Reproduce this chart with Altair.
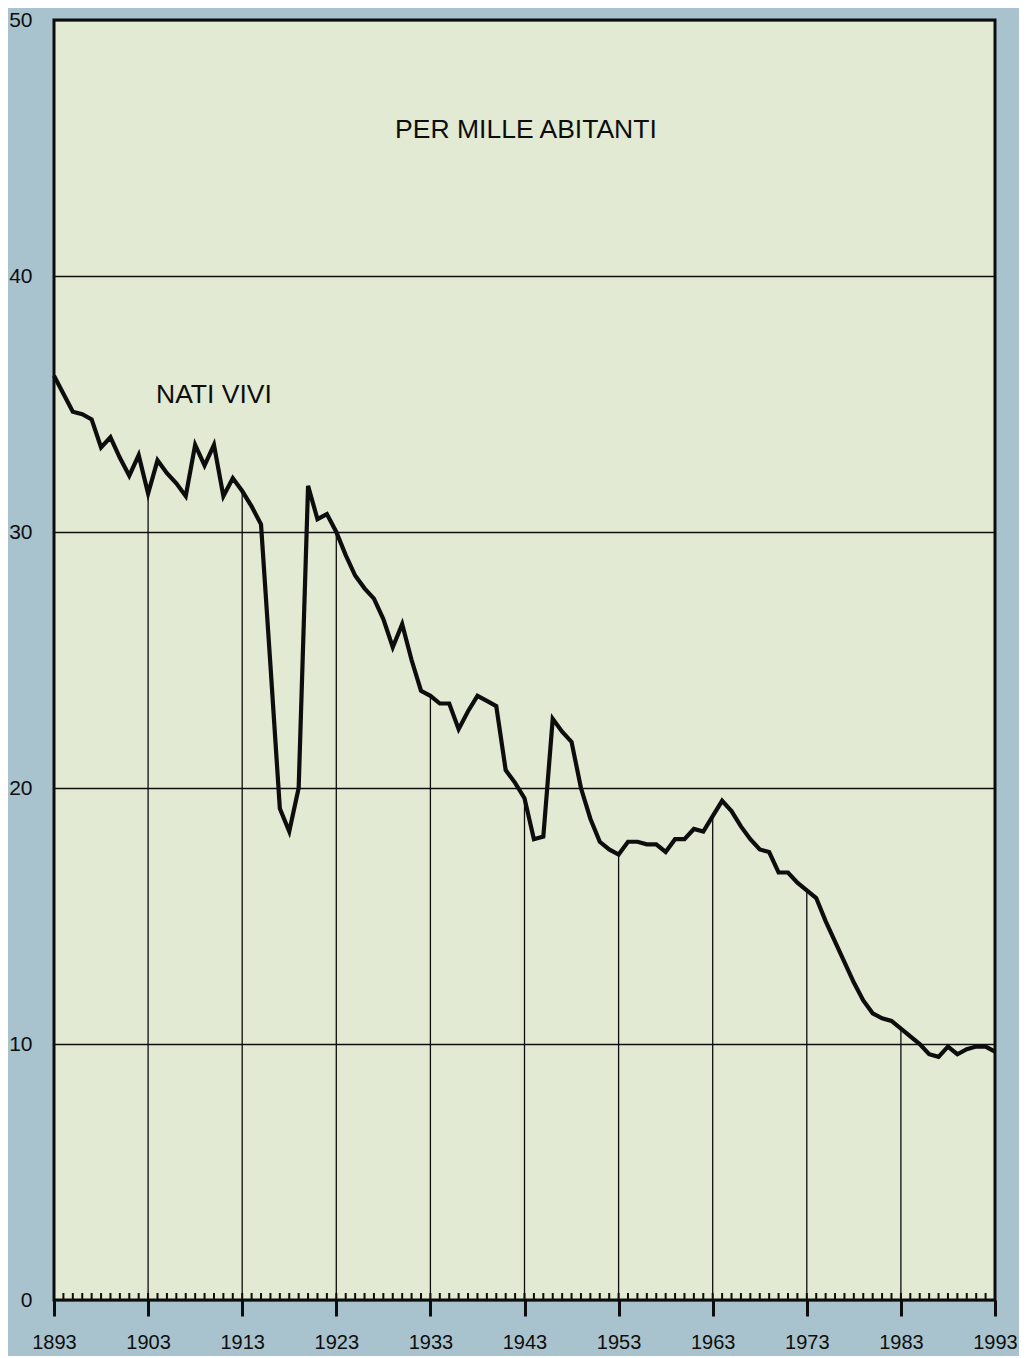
import altair as alt
import pandas as pd

# ---- data ----
years = list(range(1893, 1994))
births = [
    36.1, 35.4, 34.7, 34.6, 34.4, 33.3, 33.7, 32.9, 32.2, 33.0,   # 1893-1902
    31.5, 32.8, 32.3, 31.9, 31.4, 33.4, 32.6, 33.4, 31.4, 32.1,   # 1903-1912
    31.6, 31.0, 30.3, 24.8, 19.2, 18.3, 20.0, 31.8, 30.5, 30.7,   # 1913-1922
    30.0, 29.1, 28.3, 27.8, 27.4, 26.6, 25.5, 26.4, 25.0, 23.8,   # 1923-1932
    23.6, 23.3, 23.3, 22.3, 23.0, 23.6, 23.4, 23.2, 20.7, 20.2,   # 1933-1942
    19.6, 18.0, 18.1, 22.7, 22.2, 21.8, 20.0, 18.8, 17.9, 17.6,   # 1943-1952
    17.4, 17.9, 17.9, 17.8, 17.8, 17.5, 18.0, 18.0, 18.4, 18.3,   # 1953-1962
    18.9, 19.5, 19.1, 18.5, 18.0, 17.6, 17.5, 16.7, 16.7, 16.3,   # 1963-1972
    16.0, 15.7, 14.8, 14.0, 13.2, 12.4, 11.7, 11.2, 11.0, 10.9,   # 1973-1982
    10.6, 10.3, 10.0, 9.6, 9.5, 9.9, 9.6, 9.8, 9.9, 9.9,          # 1983-1992
    9.7,                                                          # 1993
]
assert len(births) == len(years)

decade_ticks = [1893, 1903, 1913, 1923, 1933, 1943, 1953, 1963, 1973, 1983, 1993]
drop_years = [1903, 1913, 1923, 1933, 1943, 1953, 1963, 1973, 1983]
y_ticks = [0, 10, 20, 30, 40, 50]

ann_labels = ["PER MILLE ABITANTI", "NATI VIVI"]
ann_years = [1929.25, 1903.84]
ann_values = [45.4, 35.03]

# ---- tables ----
df = pd.DataFrame({"year": years, "value": births})
drops = df[df["year"].isin(drop_years)].copy()
drops["base"] = 0
ann = pd.DataFrame({"label": ann_labels, "year": ann_years, "value": ann_values})

W, H = 941, 1280
FONT = "Liberation Sans"
INK = "#0d0d0d"

xscale = alt.Scale(domain=[1893, 1993], nice=False, zero=False)
yscale = alt.Scale(domain=[0, 50], nice=False)

x_axis = alt.Axis(
    values=decade_ticks, format="d", title=None, grid=False, domain=False,
    ticks=True, tickSize=16, tickWidth=3, tickColor=INK,
    labelFont=FONT, labelFontSize=20, labelColor=INK, labelPadding=16.5,
    labelFlush=False, labelOverlap=False, labelBaseline="top",
)
y_axis = alt.Axis(
    values=y_ticks, title=None, grid=True, gridColor=INK, gridWidth=1.5,
    gridOpacity=1, domain=False, ticks=False, tickSize=0, labelFont=FONT,
    labelFontSize=21, labelColor=INK, labelPadding=22, labelOverlap=False,
)

X = alt.X("year:Q", scale=xscale, axis=x_axis)

line = alt.Chart(df).mark_line(
    color=INK, strokeWidth=4.2, strokeJoin="miter", strokeMiterLimit=4
).encode(
    x=X,
    y=alt.Y("value:Q", scale=yscale, axis=y_axis),
)

rules = alt.Chart(drops).mark_rule(color=INK, strokeWidth=1.3).encode(
    x=X,
    y=alt.Y("base:Q", scale=yscale, axis=y_axis),
    y2="value:Q",
)

minor = alt.Chart(df).mark_rule(color=INK, strokeWidth=2).encode(
    x=X,
    y=alt.value(H),
    y2=alt.value(H - 7),
)

texts = alt.Chart(ann).mark_text(
    align="left", baseline="alphabetic", font=FONT, fontSize=26.5, color=INK
).encode(
    x=X,
    y=alt.Y("value:Q", scale=yscale, axis=y_axis),
    text="label:N",
)

chart = alt.layer(line, rules, minor, texts).properties(
    width=W, height=H,
    autosize=alt.AutoSizeParams(type="none"),
    padding={"left": 46, "top": 12, "right": 24, "bottom": 56},
    background="#a9c3ce",
).configure_view(
    fill="#e3ead3", stroke=INK, strokeWidth=3
)

chart.save("out.html", embed_options={"renderer": "svg", "actions": False})
